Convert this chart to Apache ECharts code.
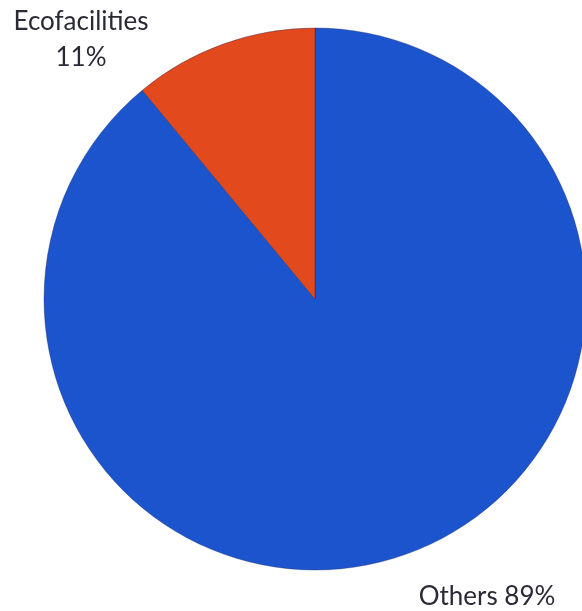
<!DOCTYPE html>
<html>
<head>
<meta charset="utf-8">
<script src="https://cdn.jsdelivr.net/npm/echarts@6/dist/echarts.min.js"></script>
<style>
  html, body { margin: 0; padding: 0; background: #fff; }
  #chart { width: 582px; height: 611px; }
</style>
</head>
<body>
<div id="chart"></div>
<script>
// slice data, clockwise from 12 o'clock
var names = ['Others', 'Ecofacilities'];
var shares = [89, 11];
var colors = ['#1b54cc', '#e2491c'];

// where each label sits on the page
var labelSpots = [
    { x: 487, y: 597 },
    { x: 81, y: 40 }
];

var chart = echarts.init(document.getElementById('chart'));

var option = {
    animation: false,
    series: [
        {
            type: 'pie',
            center: [315, 299],
            radius: 271,
            startAngle: 90,
            clockwise: true,
            data: names.map(function (n, i) {
                return {
                    name: n,
                    value: shares[i],
                    itemStyle: { color: colors[i] }
                };
            }),
            itemStyle: {
                borderColor: 'rgba(20,30,80,0.35)',
                borderWidth: 1
            },
            label: {
                show: true,
                position: 'outside',
                fontFamily: 'Lato',
                fontSize: 26,
                lineHeight: 36,
                color: '#2a2a36',
                align: 'center',
                overflow: 'none',
                width: 220,
                formatter: function (p) {
                    return p.dataIndex === 0
                        ? p.name + ' ' + p.value + '%'
                        : p.name + '\n' + p.value + '%';
                }
            },
            labelLine: { show: false },
            labelLayout: function (p) {
                var s = labelSpots[p.dataIndex];
                return { x: s.x, y: s.y, align: 'center', verticalAlign: 'middle' };
            }
        }
    ]
};

chart.setOption(option);
</script>
</body>
</html>
